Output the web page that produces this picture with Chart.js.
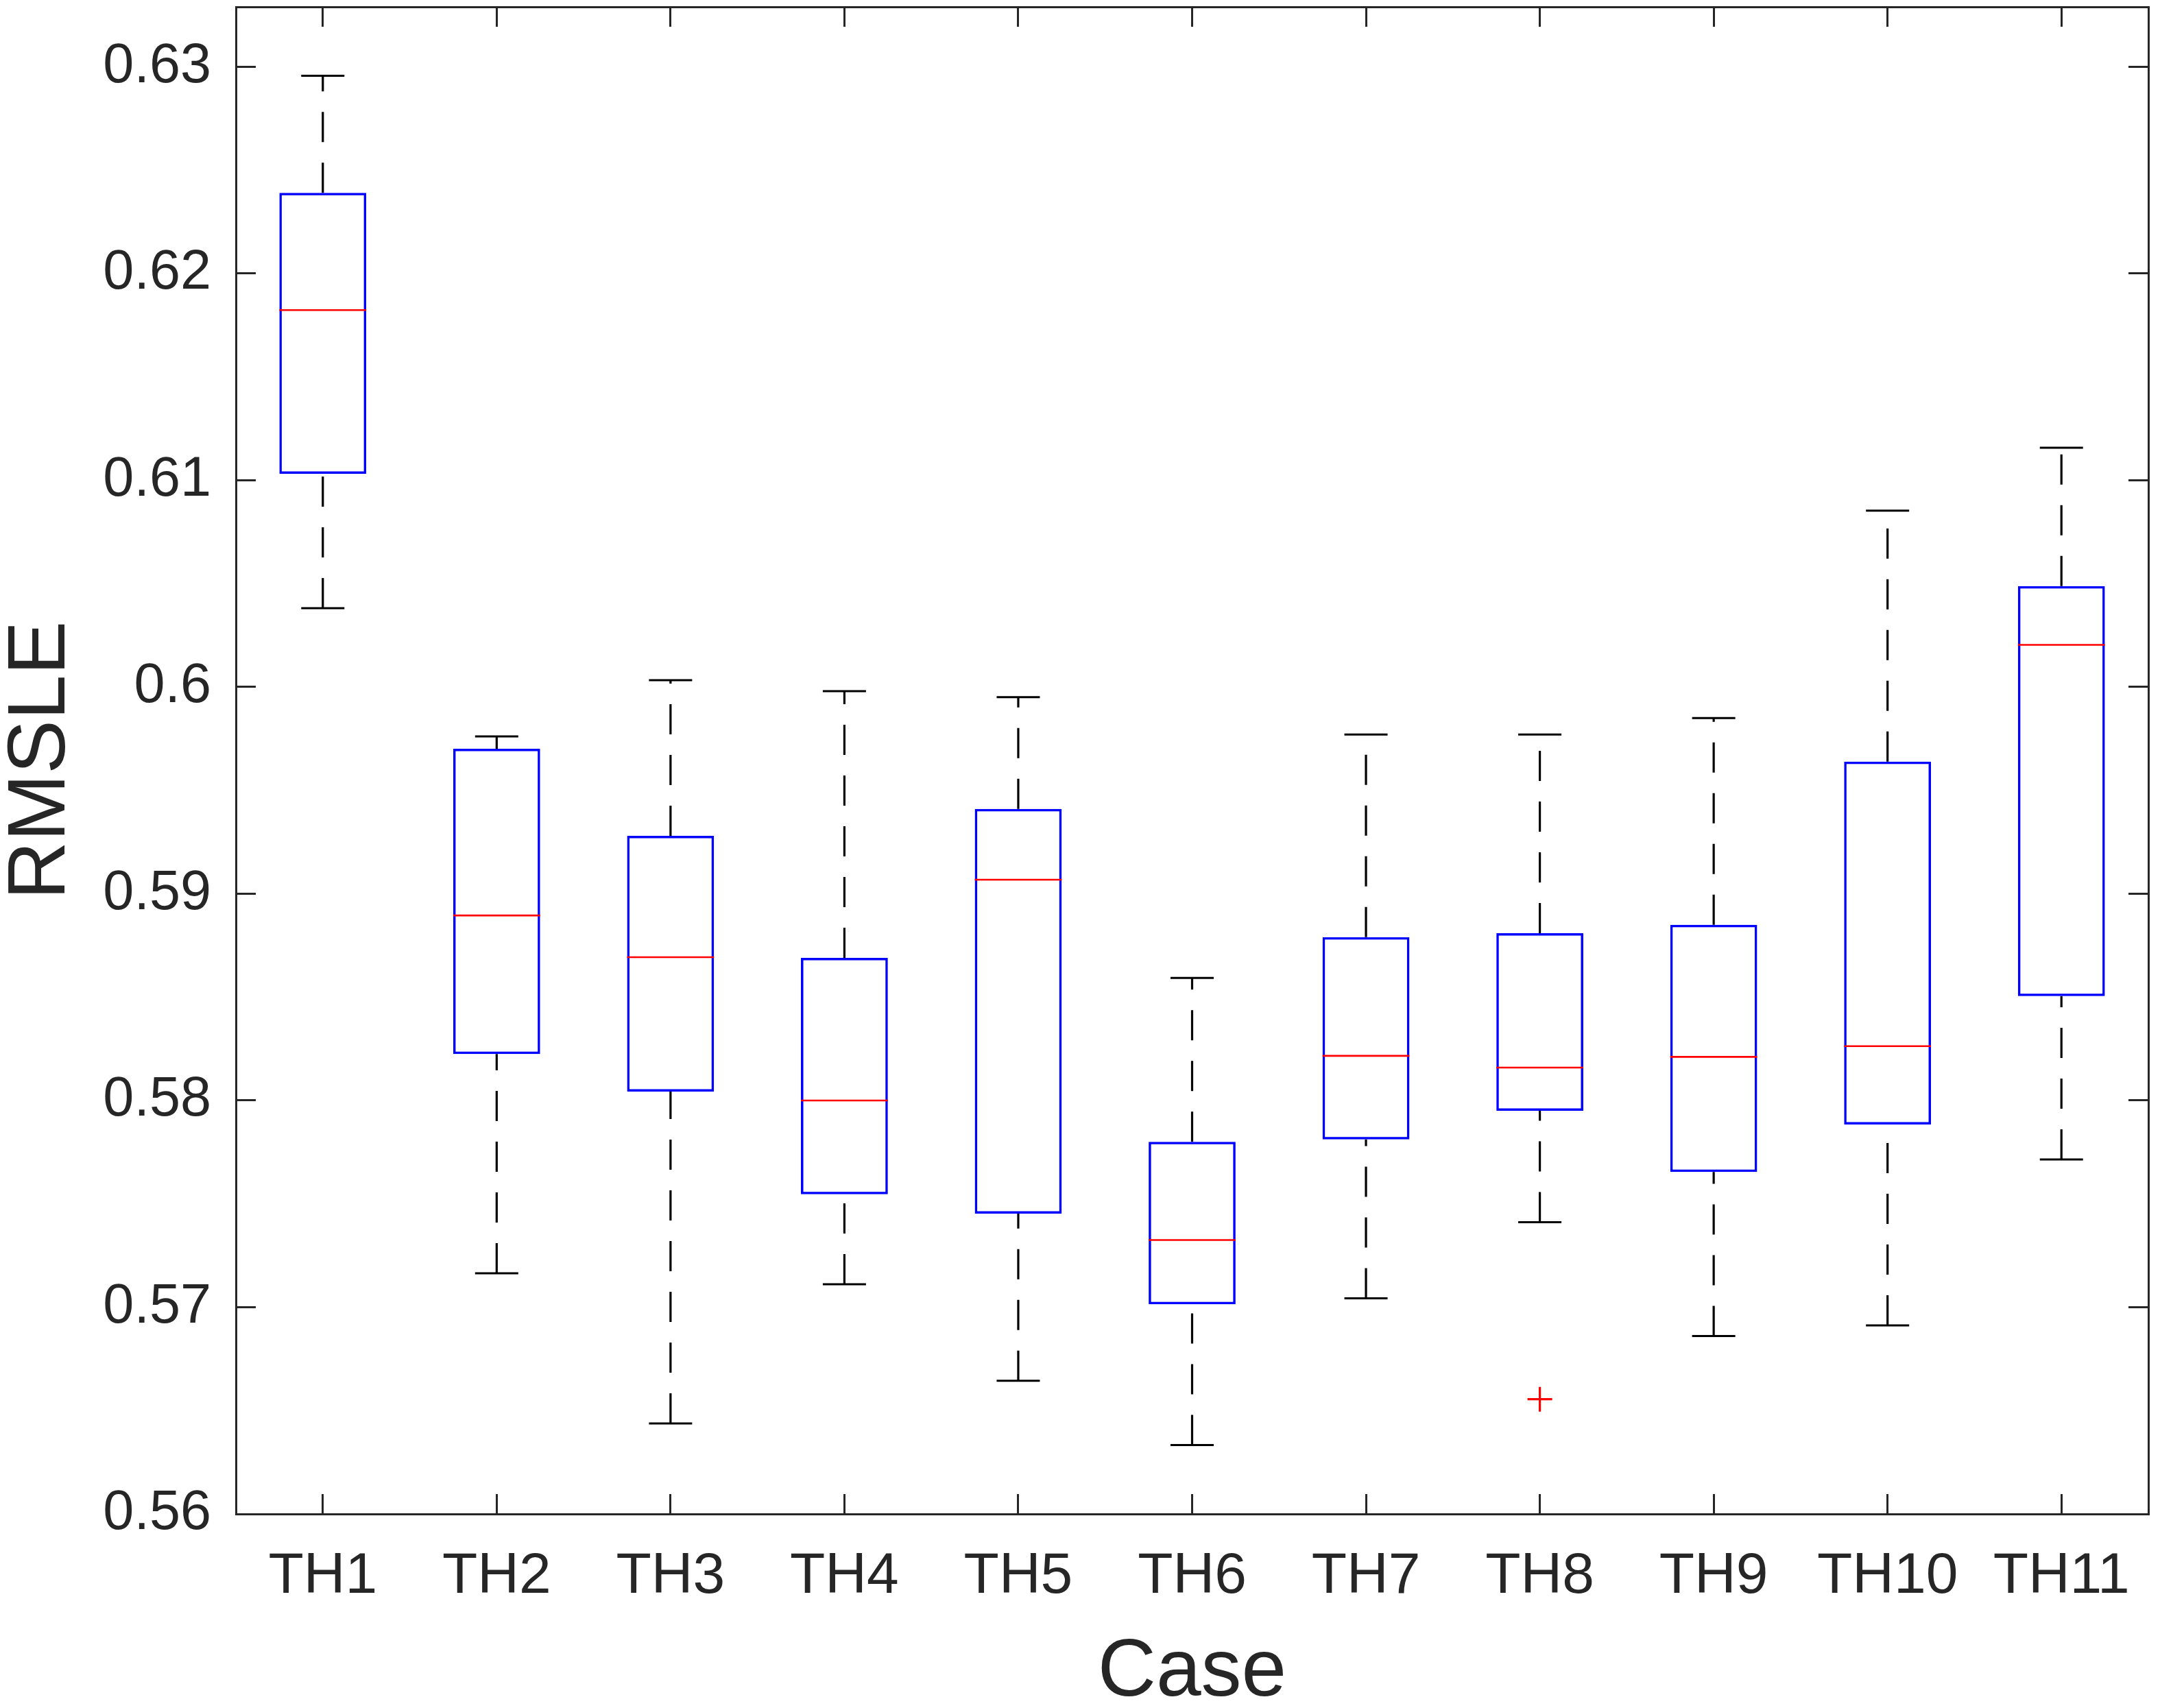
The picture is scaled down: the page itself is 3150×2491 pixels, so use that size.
<!DOCTYPE html>
<html>
<head>
<meta charset="utf-8">
<script src="https://cdn.jsdelivr.net/npm/chart.js@4/dist/chart.umd.min.js"></script>
<style>
  html, body { margin: 0; padding: 0; background: #ffffff; }
  #wrap { width: 3150px; height: 2491px; position: relative; }
</style>
</head>
<body>
<div id="wrap"><canvas id="c"></canvas></div>
<script>
// ---- data ----
const categories = ['TH1','TH2','TH3','TH4','TH5','TH6','TH7','TH8','TH9','TH10','TH11'];
const whiskerHigh = [0.62957, 0.59761, 0.60033, 0.59980, 0.59951, 0.58593, 0.59770, 0.59770, 0.59850, 0.60853, 0.61157];
const q3Values    = [0.62390, 0.59701, 0.59280, 0.58690, 0.59410, 0.57800, 0.58790, 0.58809, 0.58850, 0.59639, 0.60488];
const medians     = [0.61823, 0.58895, 0.58693, 0.58000, 0.59068, 0.57325, 0.58216, 0.58159, 0.58211, 0.58263, 0.60204];
const q1Values    = [0.61031, 0.58225, 0.58043, 0.57546, 0.57453, 0.57014, 0.57812, 0.57950, 0.57654, 0.57884, 0.58505];
const whiskerLow  = [0.60381, 0.57164, 0.56438, 0.57111, 0.56644, 0.56333, 0.57043, 0.57411, 0.56861, 0.56912, 0.57715];
const outlierCases  = ['TH8'];
const outlierValues = [0.56555];
const yTickLabels = ['0.56','0.57','0.58','0.59','0.6','0.61','0.62','0.63'];
const yMin = 0.56, yMax = 0.6329, yStep = 0.01;
const xTitle = 'Case', yTitle = 'RMSLE';

// ---- derived datasets ----
const boxData = categories.map((c, i) => [q1Values[i], q3Values[i]]);
const upperWhisker = [], lowerWhisker = [], caps = [];
categories.forEach((c, i) => {
  upperWhisker.push({x: c, y: q3Values[i]}, {x: c, y: whiskerHigh[i]}, {x: c, y: null});
  lowerWhisker.push({x: c, y: whiskerLow[i]}, {x: c, y: q1Values[i]}, {x: c, y: null});
  caps.push({x: c, y: whiskerHigh[i]}, {x: c, y: whiskerLow[i]});
});
const medianData = categories.map((c, i) => ({x: c, y: medians[i]}));
const outlierData = outlierCases.map((c, i) => ({x: c, y: outlierValues[i]}));

const AX = '#262626';
const FONT = 'Liberation Sans, Arial, Helvetica, sans-serif';
Chart.defaults.font.family = FONT;
Chart.defaults.color = AX;

const commonGrid = {
  display: true, drawOnChartArea: false, drawTicks: true,
  tickLength: -29, tickColor: AX, tickWidth: 3, offset: false
};
const commonBorder = { display: true, color: AX, width: 3 };
const noPad = s => { s.paddingTop = 0; s.paddingBottom = 0; s.paddingLeft = 0; s.paddingRight = 0; };

new Chart(document.getElementById('c'), {
  type: 'bar',
  data: {
    labels: categories,
    datasets: [
      {
        type: 'bar', label: 'box', data: boxData, order: 3,
        backgroundColor: 'rgba(0,0,0,0)', borderColor: '#0000FF', borderWidth: 3.5,
        borderSkipped: false, barPercentage: 0.5, categoryPercentage: 1.0
      },
      {
        type: 'line', label: 'upper', data: upperWhisker, order: 4,
        borderColor: '#000000', borderWidth: 3.2, borderDash: [44, 30],
        pointRadius: 0, pointHoverRadius: 0, spanGaps: false, fill: false, tension: 0
      },
      {
        type: 'line', label: 'lower', data: lowerWhisker, order: 4,
        borderColor: '#000000', borderWidth: 3.2, borderDash: [44, 30],
        pointRadius: 0, pointHoverRadius: 0, spanGaps: false, fill: false, tension: 0
      },
      {
        type: 'line', label: 'caps', data: caps, order: 2, showLine: false,
        pointStyle: 'line', pointRadius: 31.5, pointBorderWidth: 3,
        pointBorderColor: '#000000', pointBackgroundColor: '#000000'
      },
      {
        type: 'line', label: 'median', data: medianData, order: 1, showLine: false,
        pointStyle: 'line', pointRadius: 63.4, pointBorderWidth: 2.6,
        pointBorderColor: '#FF0000', pointBackgroundColor: '#FF0000'
      },
      {
        type: 'line', label: 'outlier', data: outlierData, order: 0, showLine: false,
        pointStyle: 'cross', pointRadius: 18, pointBorderWidth: 3.2,
        pointBorderColor: '#FF0000', pointBackgroundColor: '#FF0000'
      }
    ]
  },
  options: {
    responsive: true, maintainAspectRatio: false, devicePixelRatio: 1,
    animation: false,
    layout: { padding: 0, autoPadding: false },
    plugins: { legend: { display: false }, tooltip: { enabled: false } },
    scales: {
      x: {
        type: 'category', position: 'bottom', offset: true,
        grid: commonGrid, border: commonBorder,
        ticks: { font: { size: 84, family: FONT, lineHeight: 1.2 }, color: AX, padding: 70, maxRotation: 0, autoSkip: false },
        title: { display: true, text: xTitle, color: AX, font: { size: 118, family: FONT, lineHeight: 1 }, padding: { top: 0, bottom: -8 } },
        afterFit: s => { s.height = 283; noPad(s); }
      },
      x2: {
        type: 'category', position: 'top', offset: true, labels: categories,
        grid: commonGrid, border: commonBorder,
        ticks: { display: false },
        afterFit: s => { s.height = 10; noPad(s); }
      },
      y: {
        type: 'linear', position: 'left', min: yMin, max: yMax,
        grid: commonGrid, border: commonBorder,
        ticks: {
          stepSize: yStep, includeBounds: false, padding: 65,
          font: { size: 81, family: FONT, lineHeight: 1.2 }, color: AX,
          callback: (v, i) => yTickLabels[i]
        },
        title: { display: true, text: yTitle, color: AX, font: { size: 118, family: FONT, lineHeight: 1 }, padding: { top: 2, bottom: 0 } },
        afterFit: s => { s.width = 344; noPad(s); }
      },
      y2: {
        type: 'linear', position: 'right', min: yMin, max: yMax,
        grid: commonGrid, border: commonBorder,
        ticks: { display: false, stepSize: yStep, includeBounds: false },
        afterFit: s => { s.width = 17; noPad(s); }
      }
    }
  }
});
</script>
</body>
</html>
